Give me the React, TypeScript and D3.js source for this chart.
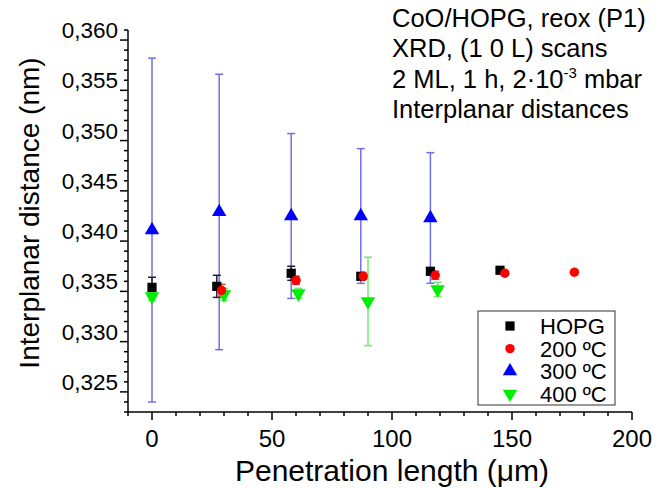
import React from 'react'
import * as d3 from 'd3'

// penetration length (um) / interplanar distance (nm) / error
const hopgX = [0, 27, 58, 87, 116, 145]
const hopgY = [0.3344, 0.3345, 0.3358, 0.3355, 0.336, 0.3361]
const hopgErr = [0.001, 0.0011, 0.0007, 0.0003, 0.0003, 0.0002]

const c200X = [29, 60, 88, 118, 147, 176]
const c200Y = [0.3341, 0.3351, 0.3355, 0.3356, 0.3358, 0.3359]
const c200Err = [0.0006, 0.0004, 0.0003, 0.0004, 0.0002, 0.0002]

const c300X = [0, 28, 58, 87, 116]
const c300Y = [0.3401, 0.3419, 0.3415, 0.3415, 0.3413]
const c300Err = [0.0171, 0.0137, 0.0082, 0.0067, 0.0065]

const c400X = [0, 30, 61, 90, 119]
const c400Y = [0.3335, 0.3337, 0.3338, 0.333, 0.3342]
const c400Err = [0.0004, 0.0006, 0.0005, 0.0044, 0.0007]

const xTicks = [0, 50, 100, 150, 200]
const yTicks = [0.325, 0.33, 0.335, 0.34, 0.345, 0.35, 0.355, 0.36]
const legendLabels = ['HOPG', '200 ºC', '300 ºC', '400 ºC']
const noteLines = ['CoO/HOPG, reox (P1)', 'XRD, (1 0 L) scans', '2 ML, 1 h, 2·10', 'Interplanar distances']

const font = 'Liberation Sans, Arial, sans-serif'

export default function App() {
  const width = 666
  const height = 489
  const left = 128
  const right = 632
  const top = 30
  const bottom = 412

  const x = d3.scaleLinear().domain([-10, 200]).range([left, right])
  const y = d3.scaleLinear().domain([0.322, 0.36]).range([bottom, top])

  const square = d3.symbol(d3.symbolSquare, 85)()
  const circle = d3.symbol(d3.symbolCircle, 70)()
  const tri = d3.symbol(d3.symbolTriangle, 90)()

  const series = [
    { xs: c300X, ys: c300Y, err: c300Err, color: '#0000ff', bar: '#7070e6', path: tri, rot: 0 },
    { xs: c400X, ys: c400Y, err: c400Err, color: '#00ee00', bar: '#70ee70', path: tri, rot: 180 },
    { xs: hopgX, ys: hopgY, err: hopgErr, color: '#000000', bar: '#222222', path: square, rot: 0 },
    { xs: c200X, ys: c200Y, err: c200Err, color: '#ff0000', bar: '#dd4444', path: circle, rot: 0 }
  ]
  const legendOrder = [2, 3, 0, 1]

  const minorX = d3.range(-10, 201, 10)
  const minorY = d3.range(0, 39).map(i => 0.322 + i * 0.001)

  return (
    <svg width={width} height={height} style={{ position: 'absolute', left: 0, top: 0 }}>
      <rect width={width} height={height} fill="#fff" />

      {/* error bars */}
      {series.map((s, si) =>
        s.xs.map((xv, i) => {
          const cx = x(xv)
          const y1 = y(s.ys[i] + s.err[i])
          const y2 = y(s.ys[i] - s.err[i])
          return (
            <g key={si + '-' + i} stroke={s.bar} strokeWidth={1.5}>
              <line x1={cx} x2={cx} y1={y1} y2={y2} />
              <line x1={cx - 4} x2={cx + 4} y1={y1} y2={y1} />
              <line x1={cx - 4} x2={cx + 4} y1={y2} y2={y2} />
            </g>
          )
        })
      )}

      {/* markers */}
      {series.map((s, si) =>
        s.xs.map((xv, i) => (
          <path
            key={'m' + si + '-' + i}
            d={s.path}
            fill={s.color}
            transform={`translate(${x(xv)},${y(s.ys[i])}) rotate(${s.rot})`}
          />
        ))
      )}

      {/* axes */}
      <g stroke="#000" strokeWidth={1.5}>
        <line x1={left} x2={right} y1={bottom} y2={bottom} />
        <line x1={left} x2={left} y1={top} y2={bottom} />
        {minorX.map(v => (
          <line key={'mx' + v} x1={x(v)} x2={x(v)} y1={bottom} y2={bottom + (v % 50 === 0 ? 8 : 4)} />
        ))}
        {minorY.map((v, i) => (
          <line key={'my' + i} x1={left} x2={left - ((i + 3) % 5 === 0 ? 8 : 4)} y1={y(v)} y2={y(v)} />
        ))}
      </g>

      <g fontFamily={font} fill="#000">
        {xTicks.map(v => (
          <text key={'xt' + v} x={x(v)} y={447} textAnchor="middle" fontSize={24}>
            {v}
          </text>
        ))}
        {yTicks.map(v => (
          <text key={'yt' + v} x={118} y={y(v) + 8} textAnchor="end" fontSize={22.5}>
            {d3.format('.3f')(v).replace('.', ',')}
          </text>
        ))}
      </g>

      <text x={(left + right) / 2 + 12} y={481} textAnchor="middle" fontFamily={font} fontSize={30}>
        Penetration length (μm)
      </text>
      <text
        transform={`translate(39,${213}) rotate(-90)`}
        textAnchor="middle"
        fontFamily={font}
        fontSize={28}
      >
        Interplanar distance (nm)
      </text>

      {/* annotation */}
      <g fontFamily={font} fontSize={25.5} fill="#000">
        <text x={392} y={27}>{noteLines[0]}</text>
        <text x={392} y={57}>{noteLines[1]}</text>
        <text x={392} y={88}>
          {noteLines[2]}
          <tspan dy={-10} fontSize={15}>-3</tspan>
          <tspan dy={10}> mbar</tspan>
        </text>
        <text x={392} y={118}>{noteLines[3]}</text>
      </g>

      {/* legend */}
      <rect x={478} y={311} width={137} height={94} fill="#fff" stroke="#333" strokeWidth={1} />
      {legendOrder.map((si, k) => {
        const s = series[si]
        const ly = 326 + k * 22.6
        return (
          <g key={'lg' + k}>
            <path d={s.path} fill={s.color} transform={`translate(510,${ly}) rotate(${s.rot})`} />
            <text x={540} y={ly + 8} fontFamily={font} fontSize={22}>
              {legendLabels[k]}
            </text>
          </g>
        )
      })}
    </svg>
  )
}
